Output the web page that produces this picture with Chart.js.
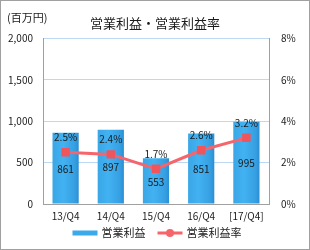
<!DOCTYPE html>
<html>
<head>
<meta charset="utf-8">
<script src="https://cdn.jsdelivr.net/npm/chart.js@4"></script>
<style>
  html, body { margin: 0; padding: 0; background: #fff; }
  #wrap { width: 308px; height: 248px; border: 1px solid #a0a0a0; position: relative; }
  canvas { display: block; }
</style>
</head>
<body>
<div id="wrap"><canvas id="c" width="308" height="248"></canvas></div>
<script>
// --- Data ---
const categories = ['13/Q4', '14/Q4', '15/Q4', '16/Q4', '[17/Q4]'];
const operatingProfit = [861, 897, 553, 851, 995];
const profitRate = [2.5, 2.4, 1.7, 2.6, 3.2];
const leftTicks = [0, 500, 1000, 1500, 2000];
const rightTicks = [0, 2, 4, 6, 8];
const seriesNames = ['営業利益', '営業利益率'];

const FONT = '"Noto Sans CJK JP", "Noto Sans", sans-serif';
const BAR_BLUE = '#3aaaec';
const LINE_RED = '#f6646c';
const TEXT = '#1a1a1a';

// horizontal shading on each bar, a bit like a cylinder
function barShade(ctx) {
    const chart = ctx.chart;
    if (!chart.chartArea) return BAR_BLUE;
    const x = chart.scales.x.getPixelForValue(ctx.dataIndex);
    const g = chart.ctx.createLinearGradient(x - 13, 0, x + 13, 0);
    g.addColorStop(0, '#3aa6e6');
    g.addColorStop(0.4, '#42b2f2');
    g.addColorStop(0.85, '#369fe2');
    g.addColorStop(1, '#2a8fd4');
    return g;
}

// value labels: rates above points, amounts in the middle of the bars
const valueLabels = {
    id: 'valueLabels',
    afterDatasetsDraw(chart) {
        const ctx = chart.ctx;
        ctx.save();
        ctx.font = '10px ' + FONT;
        ctx.fillStyle = TEXT;
        ctx.textAlign = 'center';
        ctx.textBaseline = 'middle';
        chart.getDatasetMeta(0).data.forEach((bar, i) => {
            ctx.fillText(String(operatingProfit[i]), bar.x, (bar.y + bar.base) / 2 + 1);
        });
        chart.getDatasetMeta(1).data.forEach((pt, i) => {
            ctx.fillText(profitRate[i].toFixed(1) + '%', pt.x, pt.y - 15);
        });
        ctx.restore();
    }
};

// unit label and the legend under the x axis
const extras = {
    id: 'extras',
    afterDraw(chart) {
        const ctx = chart.ctx;
        ctx.save();
        ctx.fillStyle = TEXT;
        ctx.textBaseline = 'middle';
        ctx.font = '11px ' + FONT;
        ctx.fillText('(百万円)', 6, 17);

        ctx.font = '11px ' + FONT;
        const iconW = 25, gapText = 4, gapItems = 12;
        const w0 = ctx.measureText(seriesNames[0]).width;
        const w1 = ctx.measureText(seriesNames[1]).width;
        const total = iconW + gapText + w0 + gapItems + iconW + gapText + w1;
        let x = chart.width / 2 - total / 2 + 2;
        const y = 232;

        ctx.fillStyle = BAR_BLUE;
        ctx.fillRect(x, y - 2.5, iconW, 5);
        x += iconW + gapText;
        ctx.fillStyle = TEXT;
        ctx.fillText(seriesNames[0], x, y);
        x += w0 + gapItems;

        ctx.strokeStyle = LINE_RED;
        ctx.lineWidth = 3;
        ctx.beginPath(); ctx.moveTo(x, y); ctx.lineTo(x + iconW, y); ctx.stroke();
        ctx.fillStyle = LINE_RED;
        ctx.beginPath(); ctx.arc(x + iconW / 2, y, 4, 0, Math.PI * 2); ctx.fill();
        x += iconW + gapText;
        ctx.fillStyle = TEXT;
        ctx.fillText(seriesNames[1], x, y);
        ctx.restore();
    }
};

new Chart(document.getElementById('c'), {
    data: {
        labels: categories,
        datasets: [
            {
                type: 'bar',
                label: seriesNames[0],
                data: operatingProfit,
                yAxisID: 'y',
                backgroundColor: barShade,
                barPercentage: 0.58,
                categoryPercentage: 1,
                order: 2
            },
            {
                type: 'line',
                label: seriesNames[1],
                data: profitRate,
                yAxisID: 'y1',
                borderColor: LINE_RED,
                backgroundColor: '#f0545d',
                borderWidth: 3,
                pointStyle: 'rect',
                pointRadius: 6,
                pointBorderWidth: 0,
                tension: 0,
                order: 1
            }
        ]
    },
    options: {
        responsive: false,
        animation: false,
        layout: { padding: { left: 0, right: 0, top: 0, bottom: 21 } },
        plugins: {
            title: {
                display: true,
                text: '営業利益・営業利益率',
                color: TEXT,
                font: { family: FONT, size: 13, weight: 'normal' },
                padding: { top: 14, bottom: 8 }
            },
            legend: { display: false },
            tooltip: { enabled: false }
        },
        scales: {
            x: {
                grid: { display: false, drawTicks: false },
                border: { color: '#a0a0a0' },
                ticks: { color: TEXT, font: { family: FONT, size: 10 }, padding: 6, maxRotation: 0 }
            },
            y: {
                position: 'left',
                min: 0, max: 2000,
                afterBuildTicks: s => { s.ticks = leftTicks.map(v => ({ value: v })); },
                afterFit: s => { s.width = 42; },
                grid: { color: '#bcd8f2', drawTicks: false },
                border: { color: '#a0a0a0' },
                ticks: {
                    color: TEXT, font: { family: FONT, size: 10 }, padding: 10,
                    callback: v => v.toLocaleString('en-US')
                }
            },
            y1: {
                position: 'right',
                min: 0, max: 8,
                afterBuildTicks: s => { s.ticks = rightTicks.map(v => ({ value: v })); },
                afterFit: s => { s.width = 40; },
                grid: { display: false, drawTicks: false },
                border: { color: '#a0a0a0' },
                ticks: {
                    color: TEXT, font: { family: FONT, size: 10 }, padding: 12,
                    callback: v => v + '%'
                }
            }
        }
    },
    plugins: [valueLabels, extras]
});
</script>
</body>
</html>
